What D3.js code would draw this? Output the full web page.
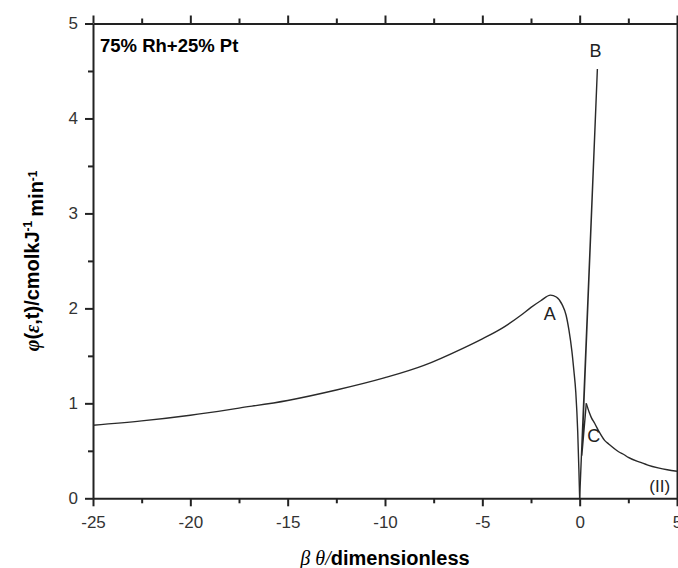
<!DOCTYPE html>
<html>
<head>
<meta charset="utf-8">
<script src="https://cdn.jsdelivr.net/npm/d3@7"></script>
<style>
  body { margin: 0; background: #fff; }
  svg { display: block; font-family: "Liberation Sans", Arial, sans-serif; }
  .axis path, .axis line { stroke: #222; stroke-width: 2; }
  .axis text { font-size: 17px; fill: #333; font-family: "Liberation Sans", Arial, sans-serif; }
</style>
</head>
<body>
<div class="chart"></div>
<script>
// data
// branch A: from -25 up to the maximum and down to zero
const thetaA = [-25, -22.5, -20, -17.5, -15, -12.5, -10, -8, -6, -5, -4, -3, -2.5, -2, -1.5, -1.2, -0.9, -0.7, -0.55, -0.4, -0.3, -0.2, -0.1, -0.04, 0];
const phiA   = [0.77, 0.815, 0.875, 0.95, 1.03, 1.14, 1.27, 1.40, 1.58, 1.68, 1.79, 1.93, 2.01, 2.08, 2.14, 2.12, 2.04, 1.93, 1.77, 1.55, 1.35, 1.12, 0.70, 0.30, 0];
// branch B: the thin spike up and back
const thetaB = [0, 0.91, 0.11, 0.34];
const phiB   = [0, 4.52, 0.45, 1.0];
// branch C: the small peak and the tail (II)
const thetaC = [0.34, 0.5, 0.6, 0.77, 1.0, 1.28, 1.5, 2.0, 2.31, 2.5, 3.17, 3.5, 4.03, 4.5, 5];
const phiC   = [1.0, 0.90, 0.85, 0.79, 0.70, 0.61, 0.57, 0.49, 0.456, 0.43, 0.375, 0.35, 0.32, 0.30, 0.285];

const xTicks = [-25, -20, -15, -10, -5, 0, 5];
const yTicks = [0, 1, 2, 3, 4, 5];

const peakNames = ['A', 'B', 'C', '(II)'];
const peakTheta = [-1.54, 0.82, 0.72, 4.11];
const peakPhi   = [1.88, 4.645, 0.593, 0.066];

const zip = (xs, ys) => xs.map((x, i) => ({theta: x, phi: ys[i]}));

const svg_width = 678;
const svg_height = 568;
const margin = {top: 23.5, right: 1, bottom: 69.7, left: 93};
const chart_width = svg_width - margin.left - margin.right;
const chart_height = svg_height - margin.top - margin.bottom;

const svg = d3.select('.chart').append('svg')
    .attr('width', svg_width)
    .attr('height', svg_height);

const g = svg.append('g')
    .attr('transform', `translate(${margin.left},${margin.top})`);

const x = d3.scaleLinear([-25, 5], [0, chart_width]);
const y = d3.scaleLinear([0, 5], [chart_height, 0]);

const xMinor = d3.range(-25, 5.01, 2.5).filter(v => !xTicks.includes(v));
const yMinor = d3.range(0, 5.01, 0.5).filter(v => !yTicks.includes(v));

// minor ticks first, majors + domain over them
function drawAxis(axisFn, scale, ticks, minor, transform, labels) {
    g.append('g').attr('class', 'axis').attr('transform', transform)
        .call(axisFn(scale).tickValues(minor).tickSize(5).tickFormat(''))
        .select('.domain').remove();
    const a = g.append('g').attr('class', 'axis').attr('transform', transform)
        .call(axisFn(scale).tickValues(ticks).tickSizeInner(8).tickSizeOuter(0)
            .tickPadding(axisFn === d3.axisBottom ? 10 : 7)
            .tickFormat(labels ? d3.format('d') : ''));
    return a;
}

drawAxis(d3.axisBottom, x, xTicks, xMinor, `translate(0,${chart_height})`, true);
drawAxis(d3.axisTop, x, xTicks, xMinor, 'translate(0,0)', false);
drawAxis(d3.axisLeft, y, yTicks, yMinor, 'translate(0,0)', true);
drawAxis(d3.axisRight, y, yTicks, yMinor, `translate(${chart_width},0)`, false);

g.selectAll('.axis text').text(function() { return this.textContent.replace('−', '-'); });

// curves
const lineMono = d3.line().x(d => x(d.theta)).y(d => y(d.phi)).curve(d3.curveMonotoneX);
const lineStraight = d3.line().x(d => x(d.theta)).y(d => y(d.phi));

const curves = g.append('g').attr('fill', 'none').attr('stroke', '#2a2a2a').attr('stroke-width', 1.4);
curves.append('path').attr('d', lineMono(zip(thetaA, phiA)));
curves.append('path').attr('d', lineStraight(zip(thetaB, phiB))).attr('stroke-linejoin', 'miter');
curves.append('path').attr('d', lineMono(zip(thetaC, phiC)));

// peak labels
g.selectAll('.peak').data(peakNames).join('text')
    .attr('class', 'peak')
    .attr('x', (d, i) => x(peakTheta[i]))
    .attr('y', (d, i) => y(peakPhi[i]))
    .attr('text-anchor', 'middle')
    .style('font-size', (d, i) => i === 3 ? '17px' : '18px')
    .style('fill', '#222')
    .text(d => d);

// panel title
g.append('text')
    .attr('x', 7)
    .attr('y', 28)
    .style('font-size', '18.5px')
    .style('font-weight', 'bold')
    .text('75% Rh+25% Pt');

// x title
const xt = svg.append('text')
    .attr('x', margin.left + chart_width / 2)
    .attr('y', 565)
    .attr('text-anchor', 'middle')
    .style('font-size', '20px')
    .style('font-weight', 'bold');
xt.append('tspan').style('font-family', '"Liberation Serif", serif').style('font-style', 'italic').style('font-weight', 'normal').text('β θ');
xt.append('tspan').style('font-family', '"Liberation Serif", serif').style('font-style', 'italic').style('font-weight', 'normal').text('/');
xt.append('tspan').text('dimensionless');

// y title
const yt = svg.append('text')
    .attr('transform', `translate(39,${margin.top + chart_height / 2}) rotate(-90)`)
    .attr('text-anchor', 'middle')
    .style('font-size', '20px')
    .style('font-weight', 'bold');
yt.append('tspan').style('font-family', '"Liberation Serif", serif').style('font-style', 'italic').text('φ');
yt.append('tspan').text('(');
yt.append('tspan').style('font-family', '"Liberation Serif", serif').style('font-style', 'italic').text('ε');
yt.append('tspan').text(',t)/cmolkJ');
yt.append('tspan').attr('dy', '-0.55em').style('font-size', '12px').text('-1');
yt.append('tspan').attr('dy', '0.55em').text('\u2009min');
yt.append('tspan').attr('dy', '-0.55em').style('font-size', '12px').text('-1');
</script>
</body>
</html>
